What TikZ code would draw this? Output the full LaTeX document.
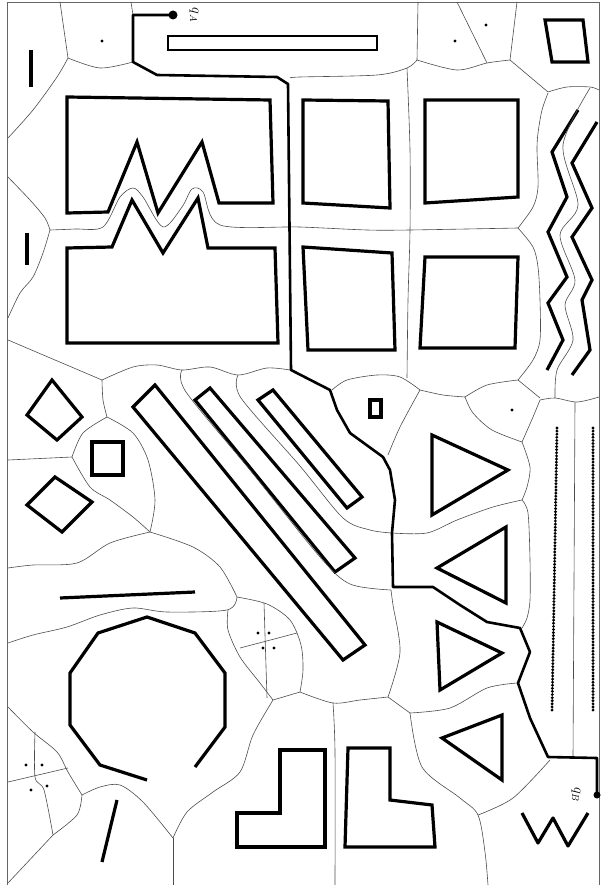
\documentclass[tikz,border=0pt]{standalone}
\usepackage{tikz}
\usetikzlibrary{calc,positioning}

\begin{document}
\begin{tikzpicture}[
    x=1pt, y=-1pt,
    obst/.style={line width=3.2pt, line join=miter, black},
    beads/.style={line width=3.2pt, line cap=round, dash pattern=on 0pt off 3.1pt, black},
    vor/.style={line width=0.6pt, black!70},
    route/.style={line width=2.6pt, line join=round, black},
    site/.style={circle, fill=black, inner sep=0pt, minimum size=3.2pt},
    endpt/.style={circle, fill=black, inner sep=0pt, minimum size=9pt},
    tag/.style={font=\Large, rotate=-90, inner sep=1pt}
]
\useasboundingbox (0,0) rectangle (600,885);
\draw[line width=0.5pt, black!60] (7,885) -- (7,2) -- (599,2) -- (599,885);

\draw[obst] (31,50) -- (31,87);
\draw[obst] (27,233) -- (27,265);
\draw[obst, line width=2.8pt] (168,36) rectangle (377,50);
\draw[obst] (67,97) -- (270,100) -- (273,203) -- (219,203) -- (202,142) -- (158,213) -- (137,142) -- (108,212) -- (67,213) -- cycle;
\draw[obst] (67,248) -- (112,247) -- (132,200) -- (163,253) -- (198,198) -- (208,248) -- (275,248) -- (278,343) -- (67,343) -- cycle;
\draw[obst] (303,100) -- (388,101) -- (390,208) -- (303,203) -- cycle;
\draw[obst] (425,100) -- (518,100) -- (518,197) -- (425,203) -- cycle;
\draw[obst] (303,247) -- (392,253) -- (395,350) -- (308,350) -- cycle;
\draw[obst] (425,257) -- (518,257) -- (515,348) -- (420,348) -- cycle;
\draw[obst] (545,20) -- (583,20) -- (588,62) -- (552,62) -- cycle;
\draw[obst] (578,110) -- (552,152) -- (567,197) -- (548,232) -- (567,277) -- (548,303) -- (563,340) -- (547,370);
\draw[obst] (597,122) -- (572,163) -- (592,208) -- (572,237) -- (592,280) -- (582,300) -- (590,350) -- (572,375);
\draw[beads] (557,428) -- (552,712);
\draw[beads] (593,428) -- (593,712);
\draw[obst] (370,400) rectangle (381,417);
\draw[obst] (27,415) -- (52,380) -- (82,417) -- (57,440) -- cycle;
\draw[obst] (92,442) rectangle (123,475);
\draw[obst] (27,505) -- (55,477) -- (92,502) -- (62,532) -- cycle;
\draw[obst] (133,407) -- (155,385) -- (365,645) -- (343,660) -- cycle;
\draw[obst] (195,400) -- (210,388) -- (355,558) -- (335,572) -- cycle;
\draw[obst] (258,400) -- (273,390) -- (362,497) -- (347,508) -- cycle;
\draw[obst] (432,435) -- (508,470) -- (432,515) -- cycle;
\draw[obst] (506,527) -- (437,568) -- (506,603) -- cycle;
\draw[obst] (437,622) -- (502,653) -- (440,690) -- cycle;
\draw[obst] (442,738) -- (502,715) -- (502,780) -- cycle;
\draw[obst] (60,598) -- (195,592);
\draw[obst] (195,767) -- (225,727) -- (225,673) -- (195,633) -- (147,617) -- (98,633) -- (70,673) -- (70,725) -- (100,765) -- (147,780);
\draw[obst] (117,800) -- (102,862);
\draw[obst] (237,813) -- (280,813) -- (280,750) -- (325,750) -- (325,847) -- (237,847) -- cycle;
\draw[obst] (348,748) -- (390,748) -- (390,800) -- (432,805) -- (435,847) -- (345,847) -- cycle;
\draw[obst, line join=round] (522,813) -- (538,843) -- (553,818) -- (568,846) -- (588,813);

\node[site] (s1) at (102,41) {};
\node[site] (s2) at (455,41) {};
\node[site] (s3) at (486,25) {};
\node[site] (s4) at (512,410) {};
\foreach \p [count=\i] in {(258,633),(269,633),(263,648),(274,648),(26,765),(42,765),(31,790),(47,786)}
  \node[site] (c\i) at \p {};

\draw[vor] (60,2) -- (68,58);
\draw[vor] plot[smooth] coordinates {(68,58) (100,68) (133,62)};
\draw[vor] (131,2) -- (133,15);
\draw[vor] plot[smooth] coordinates {(68,58) (57,77) (33,110) (8,138)};
\draw[vor] plot[smooth] coordinates {(8,177) (30,200) (45,218) (50,230)};
\draw[vor] plot[smooth] coordinates {(50,230) (43,253) (33,277) (20,293) (8,318)};
\draw[vor] plot[smooth, tension=0.5] coordinates {(50,230) (75,229) (103,227) (120,197) (133,188) (143,197) (163,227) (182,207) (192,189) (203,192) (220,225) (300,227) (367,230) (410,230) (518,228)};
\draw[vor] (8,340) -- (102,380);
\draw[vor] plot[smooth] coordinates {(102,380) (133,367) (157,365) (182,370) (210,367) (238,375) (267,368) (290,370)};
\draw[vor] plot[smooth] coordinates {(182,370) (186,392) (250,470) (320,557) (350,584) (391,590)};
\draw[vor] plot[smooth] coordinates {(238,375) (241,398) (300,466) (343,518) (370,530) (392,533)};
\draw[vor] plot[smooth] coordinates {(102,380) (103,400) (107,417)};
\draw[vor] plot[smooth] coordinates {(107,417) (83,433) (72,457)};
\draw[vor] (72,457) -- (8,460);
\draw[vor] plot[smooth] coordinates {(72,457) (90,487) (110,500) (133,517) (150,532)};
\draw[vor] plot[smooth] coordinates {(107,417) (133,433) (148,460) (155,500) (150,532)};
\draw[vor] plot[smooth] coordinates {(150,532) (110,543) (77,563) (33,565) (8,568)};
\draw[vor] plot[smooth] coordinates {(150,532) (193,547) (220,567) (237,597)};
\draw[vor] plot[smooth] coordinates {(237,597) (227,610) (167,612) (133,608) (100,615) (67,627) (33,635) (8,643)};
\draw[vor] plot[smooth] coordinates {(237,597) (267,604) (290,620) (301,645) (303,670) (300,692)};
\draw[vor] plot[smooth] coordinates {(228,610) (228,630) (240,657) (260,683) (273,700)};
\draw[vor] (264,603) -- (267,698);
\draw[vor] (240,648) -- (297,633);
\draw[vor] (273,700) -- (300,692);
\draw[vor] plot[smooth] coordinates {(300,692) (333,703) (360,700) (388,697)};
\draw[vor] plot[smooth] coordinates {(273,700) (253,735) (240,772) (213,792) (187,812) (173,838)};
\draw[vor] (173,838) -- (173,885);
\draw[vor] plot[smooth] coordinates {(8,707) (33,732) (57,752) (68,772) (82,795)};
\draw[vor] plot[smooth] coordinates {(82,795) (77,815) (53,835)};
\draw[vor] (53,835) -- (8,883);
\draw[vor] plot[smooth] coordinates {(35,732) (35,777) (44,790) (53,835)};
\draw[vor] (8,782) -- (68,768);
\draw[vor] plot[smooth] coordinates {(82,795) (100,787) (120,785) (143,802) (173,838)};
\draw[vor] plot[smooth] coordinates {(333,703) (335,752) (335,885)};
\draw[vor] (388,697) -- (410,713);
\draw[vor] plot[smooth] coordinates {(410,713) (422,767) (460,798) (478,815) (485,852) (488,885)};
\draw[vor] plot[smooth] coordinates {(478,815) (513,798) (550,760)};
\draw[vor] plot[smooth] coordinates {(517,683) (487,688) (450,708) (410,713)};
\draw[vor] plot[smooth] coordinates {(388,697) (400,652) (393,605) (391,590)};
\draw[vor] plot[smooth] coordinates {(332,390) (347,380) (377,375) (400,377) (420,390)};
\draw[vor] plot[smooth] coordinates {(420,390) (400,427) (388,455)};
\draw[vor] plot[smooth] coordinates {(420,390) (443,395) (465,397)};
\draw[vor] plot[smooth] coordinates {(465,397) (487,385) (518,380)};
\draw[vor] (518,380) -- (540,398);
\draw[vor] plot[smooth] coordinates {(518,380) (533,360) (540,340) (540,300) (538,267) (533,247) (518,228)};
\draw[vor] plot[smooth] coordinates {(518,228) (533,207) (538,187) (537,150) (538,133) (542,110) (548,93)};
\draw[vor] plot[smooth] coordinates {(407,68) (410,150) (410,230) (408,300) (407,378)};
\draw[vor] (418,2) -- (417,60);
\draw[vor] plot[smooth] coordinates {(417,60) (407,68) (377,75) (300,77) (290,78)};
\draw[vor] plot[smooth] coordinates {(417,60) (457,70) (487,63) (510,60)};
\draw[vor] (457,2) -- (487,63);
\draw[vor] (510,60) -- (517,2);
\draw[vor] (510,60) -- (548,92);
\draw[vor] plot[smooth] coordinates {(548,92) (567,87) (590,87) (599,90)};
\draw[vor] plot[smooth] coordinates {(590,88) (563,145) (578,205) (560,235) (575,280) (565,305) (573,340) (557,370) (555,398)};
\draw[vor] plot[smooth] coordinates {(465,397) (473,413) (492,430) (522,442)};
\draw[vor] plot[smooth] coordinates {(522,442) (533,417) (540,400)};
\draw[vor] plot[smooth] coordinates {(540,400) (555,398) (577,402) (599,397)};
\draw[vor] plot[smooth] coordinates {(522,442) (530,467) (527,487) (522,500)};
\draw[vor] plot[smooth] coordinates {(522,500) (528,513) (530,560) (530,600) (527,618) (522,628)};
\draw[vor] plot[smooth] coordinates {(392,533) (427,533) (457,520) (493,507) (522,500)};
\draw[vor] (575,402) -- (573,757);

\node[endpt] (qA) at (173,15) {};
\node[tag] (qAtag) at (194,15) {$q_A$};
\node[endpt, minimum size=7pt] (qB) at (597,795) {};
\node[tag] (qBtag) at (576,795) {$q_B$};
\draw[route] (qA.center) -- (133,15) -- (133,62) -- (157,75) -- (277,77) -- (288,84) -- (291,370) -- (330,390) -- (337,410) -- (350,433) -- (383,457) -- (390,470) -- (395,500) -- (392,533) -- (393,587) -- (433,587) -- (460,605) -- (487,622) -- (520,628) -- (530,652) -- (518,683) -- (530,718) -- (548,757) -- (597,758) -- (qB.center);
\end{tikzpicture}
\end{document}
